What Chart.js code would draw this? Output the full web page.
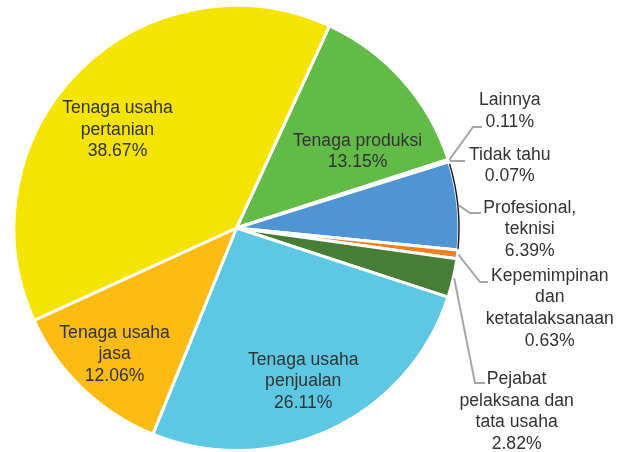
<!DOCTYPE html>
<html>
<head>
<meta charset="utf-8">
<script src="https://cdn.jsdelivr.net/npm/chart.js@4/dist/chart.umd.min.js"></script>
<style>
  html, body { margin: 0; padding: 0; background: #fff; overflow: hidden; }
  #wrap { width: 625px; height: 452px; }
</style>
</head>
<body>
<div id="wrap"><canvas id="myChart" width="625" height="452"></canvas></div>
<script>
// categories, clockwise from "Tenaga produksi"
var categories = [
  ['Tenaga produksi'],
  ['Lainnya'],
  ['Tidak tahu'],
  ['Profesional,', 'teknisi'],
  ['Kepemimpinan', 'dan', 'ketatalaksanaan'],
  ['Pejabat', 'pelaksana dan', 'tata usaha'],
  ['Tenaga usaha', 'penjualan'],
  ['Tenaga usaha', 'jasa'],
  ['Tenaga usaha', 'pertanian']
];
var values = [13.15, 0.11, 0.07, 6.39, 0.63, 2.82, 26.11, 12.06, 38.67];
var colors = ['#62bb46', '#a6a6a6', '#a6a6a6', '#4f95d3', '#f07f1f', '#467e36', '#5dc8e3', '#fdbb13', '#f5e400'];

// label layout: text centre (relative to pie centre, in radii) and leader line points for outside labels
var labelLayout = [
  { pos: [0.544, -0.343] },
  { pos: [1.228, -0.526], elbow: [473, 127], end: [482, 127] },
  { pos: [1.228, -0.280], elbow: [456, 161], end: [465, 161] },
  { pos: [1.318, 0.007], elbow: [470, 213], end: [481, 213] },
  { pos: [1.408, 0.361], elbow: [480, 282], end: [488, 282] },
  { pos: [1.259, 0.826], elbow: [475, 383], end: [485, 383] },
  { pos: [0.300, 0.690] },
  { pos: [-0.548, 0.569] },
  { pos: [-0.535, -0.442] }
];

var pieLabels = {
  id: 'pieLabels',
  afterDatasetsDraw: function (chart) {
    var ctx = chart.ctx;
    var meta = chart.getDatasetMeta(0);
    ctx.save();
    // dark rim on the Profesional slice
    var pa = meta.data[3];
    ctx.beginPath();
    ctx.arc(pa.x, pa.y, pa.outerRadius, pa.startAngle + 0.01, pa.endAngle - 0.005);
    ctx.strokeStyle = '#1e1e1e';
    ctx.lineWidth = 1.5;
    ctx.stroke();

    ctx.font = '17.6px "Liberation Sans", Arial, sans-serif';
    ctx.fillStyle = '#333333';
    ctx.textAlign = 'center';
    ctx.textBaseline = 'middle';
    var lh = 21.6;
    meta.data.forEach(function (arc, i) {
      var lay = labelLayout[i];
      var r = arc.outerRadius;
      var cx = arc.x + lay.pos[0] * r;
      var cy = arc.y + lay.pos[1] * r;
      if (lay.elbow) {
        var mid = (arc.startAngle + arc.endAngle) / 2;
        ctx.beginPath();
        ctx.moveTo(arc.x + Math.cos(mid) * (r + 1), arc.y + Math.sin(mid) * (r + 1));
        ctx.lineTo(lay.elbow[0], lay.elbow[1]);
        ctx.lineTo(lay.end[0], lay.end[1]);
        ctx.strokeStyle = '#a6a6a6';
        ctx.lineWidth = 2;
        ctx.stroke();
      }
      var lines = categories[i].concat([values[i].toFixed(2) + '%']);
      lines.forEach(function (t, k) {
        ctx.fillText(t, cx, cy + (k - (lines.length - 1) / 2) * lh);
      });
    });
    ctx.restore();
  }
};

var ctx = document.getElementById('myChart').getContext('2d');
var myChart = new Chart(ctx, {
  type: 'pie',
  data: {
    labels: categories.map(function (c) { return c.join(' '); }),
    datasets: [{
      data: values,
      backgroundColor: colors,
      borderColor: '#ffffff',
      borderWidth: 3,
      hoverOffset: 0
    }]
  },
  options: {
    responsive: false,
    animation: false,
    rotation: 24.7,
    layout: { padding: { top: 4, bottom: -1, left: 12.5, right: 164.5 } },
    plugins: {
      legend: { display: false },
      tooltip: { enabled: false }
    }
  },
  plugins: [pieLabels]
});
</script>
</body>
</html>
